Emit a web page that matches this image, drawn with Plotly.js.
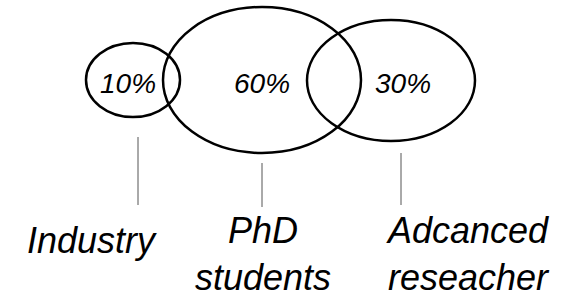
<!DOCTYPE html>
<html>
<head>
<meta charset="utf-8">
<script src="https://cdn.plot.ly/plotly-3.0.1.min.js"></script>
<style>html,body{margin:0;padding:0;background:#fff;}#chart{width:568px;height:299px;}</style>
</head>
<body>
<div id="chart"></div>
<script>
// Data
const categories = ['Industry', 'PhD<br>students', 'Adcanced<br>reseacher'];
const shares = [10, 60, 30];
const shareLabels = ['10%', '60%', '30%'];

// Layout geometry (pixel-like coordinates in a 568x299 canvas)
const ellipses = [
  {cx: 133, cy: 80, rx: 47, ry: 37},
  {cx: 262, cy: 80, rx: 99, ry: 73},
  {cx: 391, cy: 80.5, rx: 84, ry: 60.5}
];
const pctPos = [[128, 83], [262, 83], [403, 83]];
const leaderX = [138, 262, 401];
const leaderY = [[137, 205], [163, 207], [153, 205]];
const labelPos = [[92, 240], [263, 254], [468, 254]];

const FONT = 'Liberation Sans, Arial, sans-serif';

const shapes = [];
ellipses.forEach(e => {
  shapes.push({type: 'circle', xref: 'x', yref: 'y',
    x0: e.cx - e.rx, x1: e.cx + e.rx, y0: e.cy - e.ry, y1: e.cy + e.ry,
    line: {color: '#000', width: 2.5}, fillcolor: 'rgba(0,0,0,0)'});
});
leaderX.forEach((x, i) => {
  shapes.push({type: 'line', xref: 'x', yref: 'y', x0: x, x1: x,
    y0: leaderY[i][0], y1: leaderY[i][1], line: {color: '#555', width: 1}});
});

const annotations = [];
shares.forEach((v, i) => {
  annotations.push({x: pctPos[i][0], y: pctPos[i][1], xref: 'x', yref: 'y',
    text: '<i>' + shareLabels[i] + '</i>', showarrow: false,
    xanchor: 'center', yanchor: 'middle',
    font: {family: FONT, size: 28, color: '#000'}});
});
categories.forEach((c, i) => {
  annotations.push({x: labelPos[i][0], y: labelPos[i][1], xref: 'x', yref: 'y',
    text: '<i>' + c + '</i>', showarrow: false, align: 'center',
    xanchor: 'center', yanchor: 'middle',
    font: {family: FONT, size: 36, color: '#000'}});
});

const layout = {
  width: 568, height: 299,
  margin: {l: 0, r: 0, t: 0, b: 0, pad: 0},
  paper_bgcolor: '#fff', plot_bgcolor: '#fff',
  xaxis: {range: [0, 568], visible: false, fixedrange: true},
  yaxis: {range: [299, 0], visible: false, fixedrange: true},
  showlegend: false,
  shapes: shapes,
  annotations: annotations
};

Plotly.newPlot('chart', [{x: [], y: [], type: 'scatter', mode: 'markers'}], layout, {displayModeBar: false, staticPlot: true});
</script>
</body>
</html>
